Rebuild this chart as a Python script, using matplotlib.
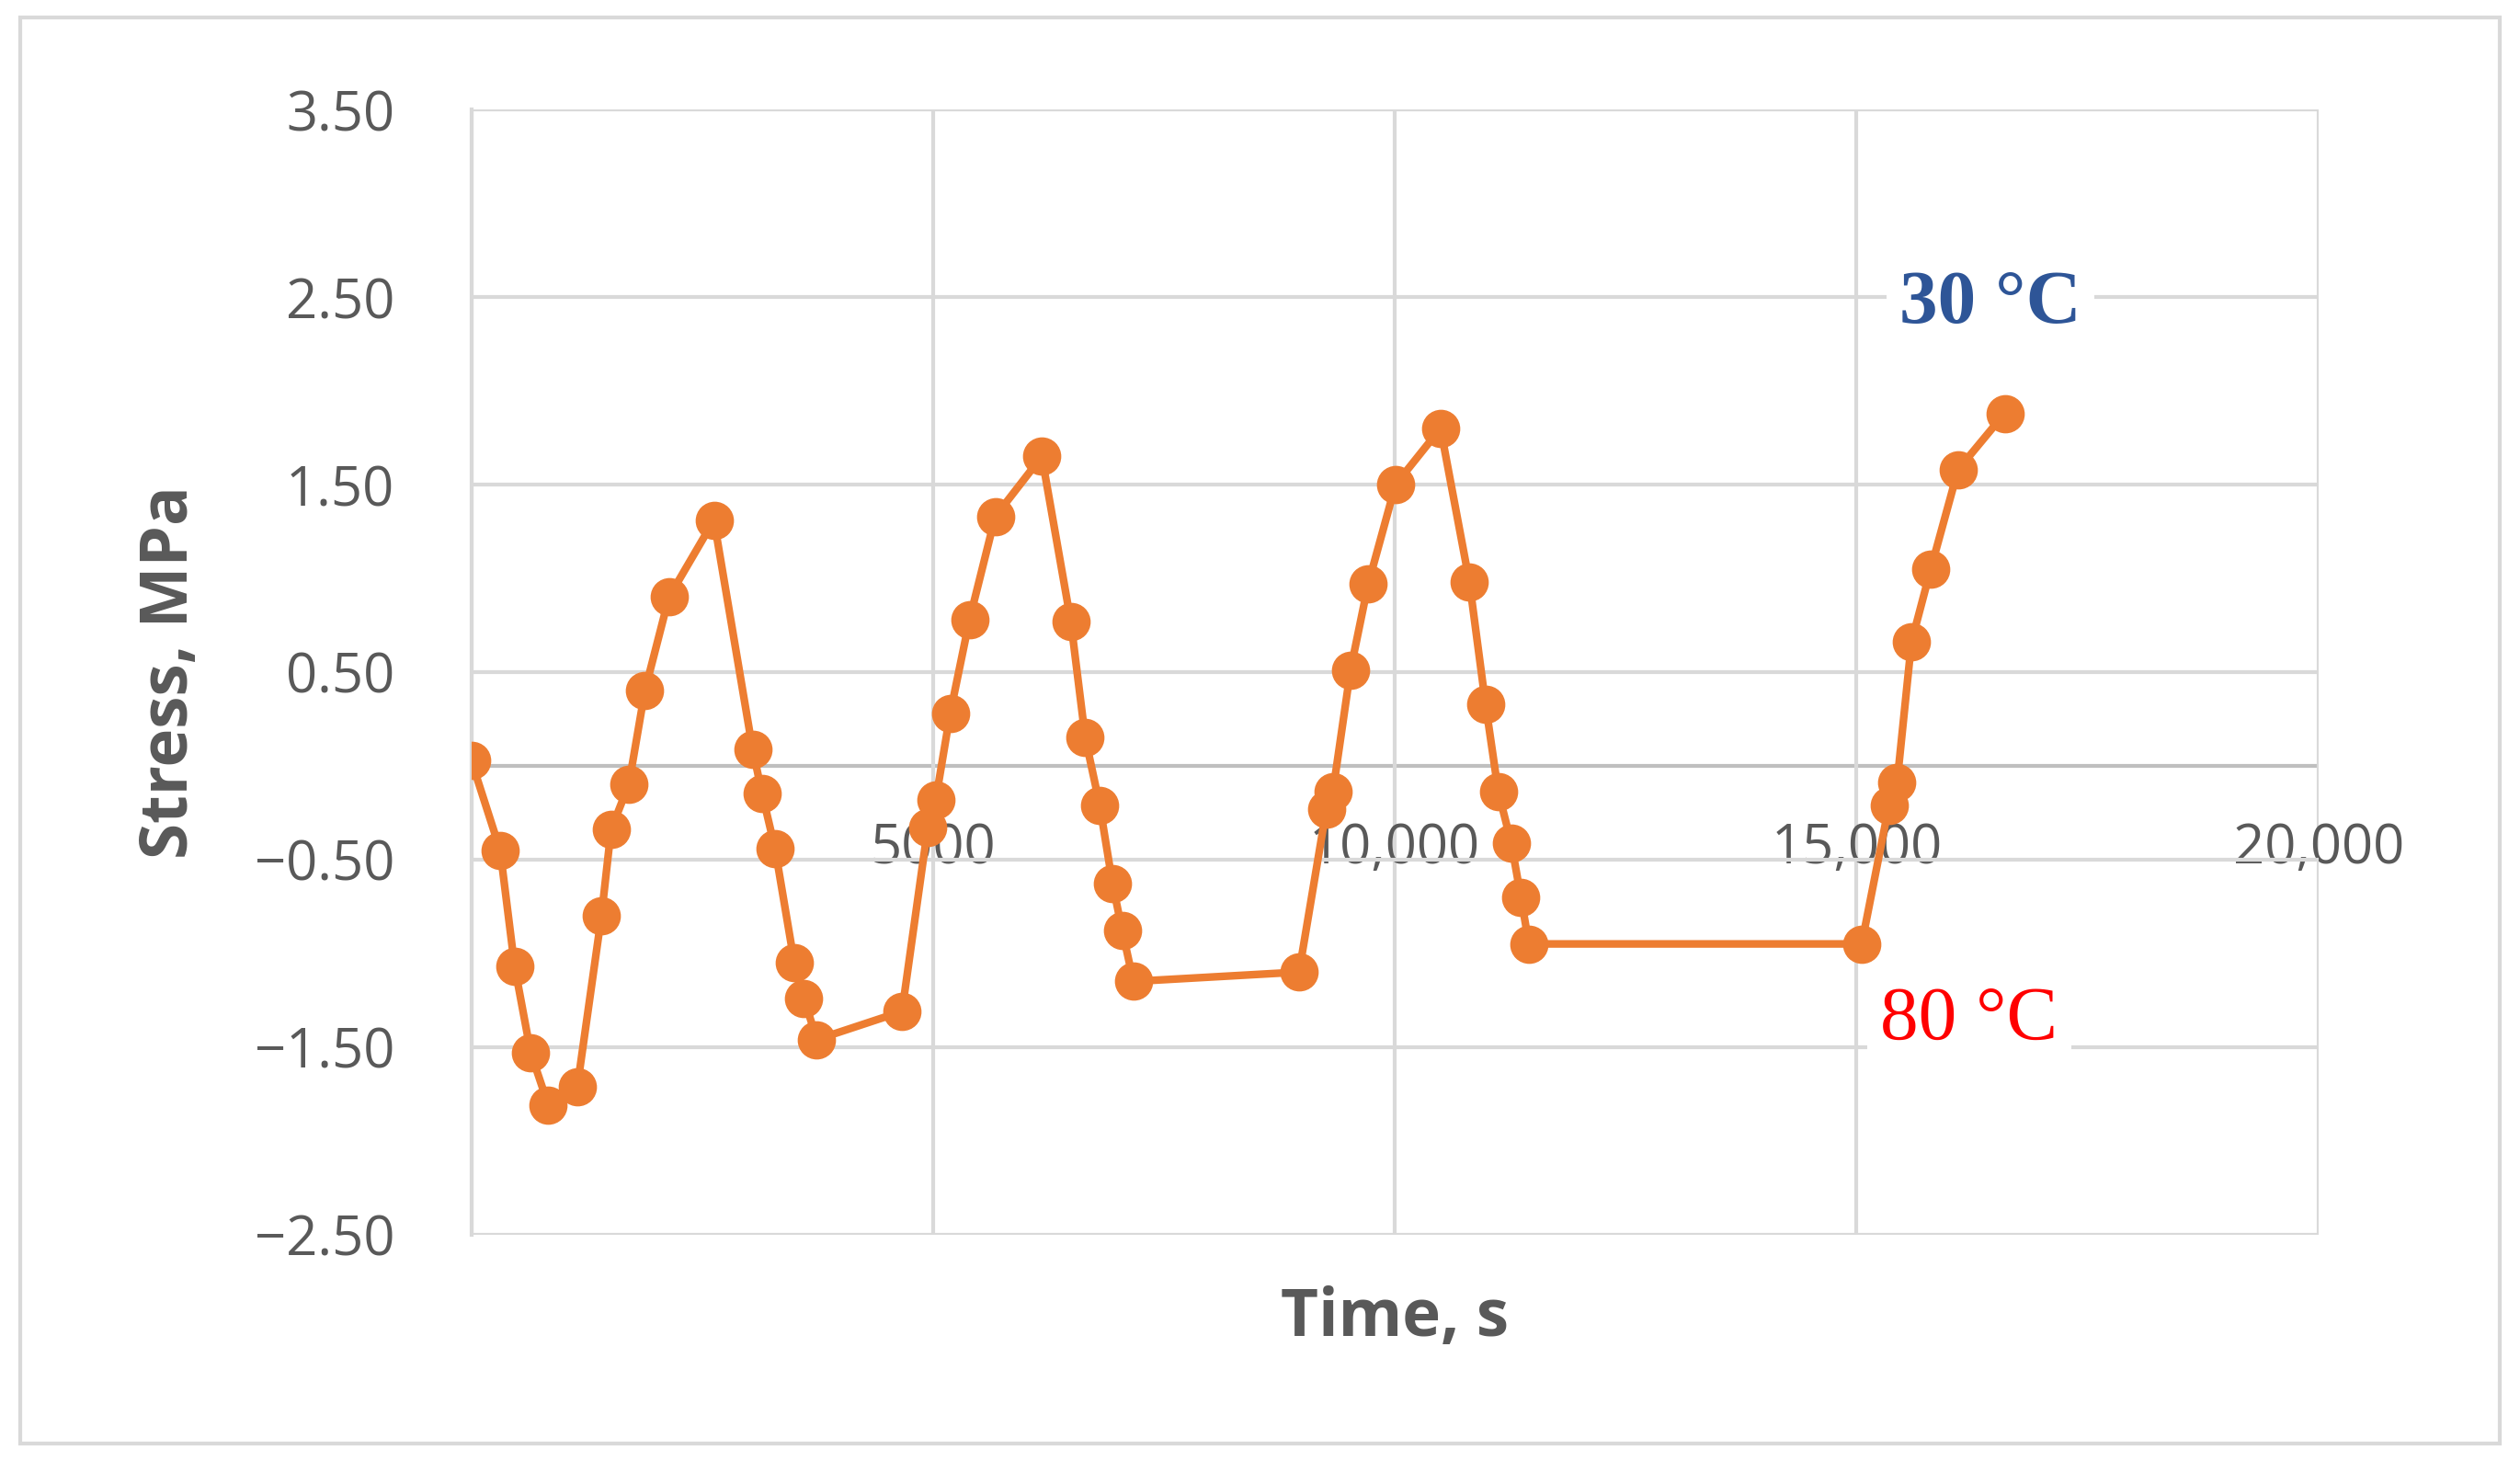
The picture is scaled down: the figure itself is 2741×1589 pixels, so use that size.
import matplotlib
matplotlib.use("Agg")
import matplotlib.pyplot as plt
from matplotlib.ticker import FuncFormatter

time_s = [0, 313, 470, 644, 835, 1149, 1410, 1514, 1706, 1880, 2141, 2628, 3046, 3150, 3289,
          3498, 3602, 3742, 4664, 4943, 5030, 5186, 5395, 5674, 6178, 6492, 6648, 6805, 6944,
          7049, 7170, 8963, 9259, 9329, 9520, 9712, 10008, 10495, 10808, 10982, 11121, 11260,
          11365, 11452, 15055, 15351, 15438, 15594, 15803, 16099, 16604]
stress = [0.03, -0.45, -1.07, -1.53, -1.81, -1.71, -0.80, -0.34, -0.10, 0.40, 0.90, 1.31, 0.09,
          -0.15, -0.44, -1.05, -1.24, -1.46, -1.31, -0.33, -0.18, 0.28, 0.78, 1.33, 1.65, 0.77,
          0.15, -0.21, -0.63, -0.88, -1.15, -1.10, -0.23, -0.14, 0.51, 0.97, 1.50, 1.80, 0.98,
          0.33, -0.14, -0.41, -0.70, -0.95, -0.95, -0.21, -0.09, 0.66, 1.05, 1.58, 1.88]
x_ticks = [5000, 10000, 15000, 20000]
y_ticks = [3.5, 2.5, 1.5, 0.5, -0.5, -1.5, -2.5]

plt.rcParams['font.family'] = ['Open Sans', 'DejaVu Sans']
fig = plt.figure(figsize=(27.41, 15.89), dpi=100)
ax = fig.add_axes([0.187, 0.155, 0.733, 0.77])
ax.set_xlim(0, 20000)
ax.set_ylim(-2.5, 3.5)
ax.set_yticks(y_ticks)
ax.set_xticks([0] + x_ticks)
ax.grid(True, color='#d9d9d9', linewidth=3)
ax.axhline(0, color='#bfbfbf', linewidth=3, zorder=1)
for s in ['top', 'right', 'bottom']:
    ax.spines[s].set_visible(False)
ax.spines['left'].set_color('#d9d9d9')
ax.spines['left'].set_linewidth(3)
ax.tick_params(length=0, labelsize=43, colors='#595959')
ax.tick_params(axis='y', pad=60)
ax.yaxis.set_major_formatter(FuncFormatter(lambda v, p: f"{v:.2f}".replace('-', '\u2212')))
for lab in ax.get_yticklabels():
    lab.set_horizontalalignment('right')
ax.set_xticklabels([''] + ['5000', '10,000', '15,000', '20,000'])
for lab in ax.get_xticklabels():
    lab.set_y(0.415)
ax.tick_params(axis='x', pad=42)
ax.plot(time_s, stress, color='#ed7d31', linewidth=6, marker='o', markersize=29, zorder=3)
ax.set_xlabel('Time, s', fontsize=51, fontweight='bold', color='#595959', labelpad=40)
ax.set_ylabel('Stress, MPa', fontsize=51, fontweight='bold', color='#595959', labelpad=40)
ax.text(16446, 2.46, '30 °C', fontsize=60, fontweight='bold', color='#2e5597', family='Liberation Serif',
        ha='center', va='center', bbox=dict(facecolor='white', edgecolor='none', pad=10), zorder=4)
ax.text(16220, -1.36, '80 °C', fontsize=60, color='red', family='Liberation Serif',
        ha='center', va='center', bbox=dict(facecolor='white', edgecolor='none', pad=10), zorder=4)
fig.patches.append(plt.Rectangle((0.008, 0.012), 0.984, 0.976, transform=fig.transFigure,
                                 fill=False, edgecolor='#d9d9d9', linewidth=3))
fig.savefig('out.png', dpi=100)
